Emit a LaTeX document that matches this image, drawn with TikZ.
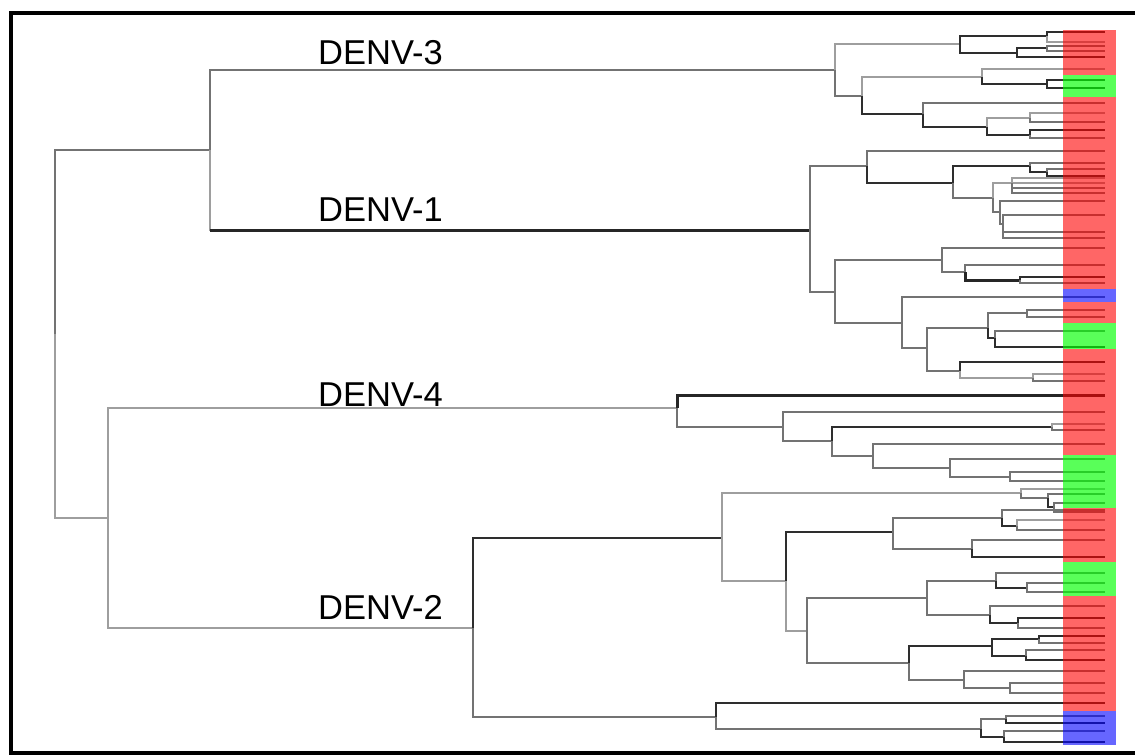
\documentclass[tikz,border=0pt]{standalone}
\usepackage{fontspec}
\setmainfont{Liberation Sans}
\newcommand\nd[4][M]{\coordinate (#2) at (#4); \draw[#1] (#3) |- (#2);}
\newcommand\lf[4][M]{\coordinate (#2) at (1105,#4); \draw[#1] (#3) |- (#2);}
\begin{document}
\begin{tikzpicture}[x=1pt,y=-1pt,
 L/.style={draw=black!38,line width=2pt},
 M/.style={draw=black!55,line width=2pt},
 K/.style={draw=black!82,line width=2.4pt},
 KK/.style={draw=black!85,line width=3pt},
 lab/.style={font=\fontsize{34.5}{40}\selectfont,anchor=base west,inner sep=0pt},
 barr/.style={fill=red,opacity=0.6},
 barg/.style={fill=green,opacity=0.65},
 barb/.style={fill=blue,opacity=0.6}]
\useasboundingbox (0,0) rectangle (1135,755);
\fill[white] (0,0) rectangle (1135,755);
% backbone
\coordinate (R) at (55,334);
\nd[M]{A}{R}{210,150}
\nd[L]{B}{R}{108,518}
\nd[M]{D3}{A}{835,70}
\coordinate (D1) at (810,230);
\draw[L] (A) |- (D1);
\draw[KK] (A |- D1) -- (D1);
\nd[L]{D4}{B}{677,408}
\nd[L]{D2}{B}{473,628}
% DENV-3
\nd[L]{a1}{D3}{960,44}
\nd[K]{a11}{a1}{1047,36}
\lf[K]{a11x}{a11}{32}
\lf[L]{a11y}{a11}{42}
\nd[K]{a12}{a1}{1017,53}
\nd[K]{a121}{a12}{1047,48}
\lf[M]{a121x}{a121}{46}
\lf[M]{a121y}{a121}{51}
\lf[K]{a12y}{a12}{57}
\nd[M]{a2}{D3}{862,96}
\nd[L]{a21}{a2}{982,77}
\lf[L]{a21x}{a21}{69}
\nd[K]{a212}{a21}{1047,84}
\lf[K]{a212x}{a212}{80}
\lf[K]{a212y}{a212}{88}
\nd[K]{a22}{a2}{923,114}
\lf[M]{a22x}{a22}{103}
\nd[K]{a222}{a22}{987,127}
\nd[L]{a2221}{a222}{1030,118}
\lf[L]{a2221x}{a2221}{113}
\lf[M]{a2221y}{a2221}{122}
\nd[K]{a2222}{a222}{1030,135}
\lf[K]{a2222x}{a2222}{130}
\lf[M]{a2222y}{a2222}{138}
% DENV-1
\nd[M]{b1}{D1}{867,166}
\lf[M]{b1x}{b1}{151}
\nd[K]{b12}{b1}{953,183}
\nd[K]{b121}{b12}{1030,166}
\lf[M]{b121x}{b121}{163}
\nd[K]{b1212}{b121}{1047,172}
\lf[M]{b1212x}{b1212}{169}
\lf[K]{b1212y}{b1212}{176}
\nd[M]{b122}{b12}{993,198}
\nd[L]{b1221}{b122}{1012,183}
\lf[L]{b1221a}{b1221}{178}
\lf[L]{b1221b}{b1221}{183}
\lf[M]{b1221c}{b1221}{188}
\lf[M]{b1221d}{b1221}{193}
\nd[M]{b1222}{b122}{1000,212}
\lf[M]{b1222x}{b1222}{201}
\nd[M]{b12222}{b1222}{1003,224}
\lf[M]{b12222x}{b12222}{215}
\lf[M]{b12222y}{b12222}{232}
\lf[M]{b12222z}{b12222}{238}
\nd[M]{b2}{D1}{835,292}
\nd[M]{b21}{b2}{942,260}
\lf[M]{b21x}{b21}{248}
\nd[M]{b212}{b21}{965,272}
\lf[M]{b212x}{b212}{265}
\nd[KK]{b2122}{b212}{1020,280}
\lf[K]{b2122x}{b2122}{277}
\lf[M]{b2122y}{b2122}{283}
\nd[M]{b22}{b2}{902,323}
\lf[M]{b22x}{b22}{297}
\nd[M]{b222}{b22}{927,348}
\nd[M]{b2221}{b222}{988,328}
\nd[M]{b22211}{b2221}{1027,313}
\lf[M]{b22211x}{b22211}{310}
\lf[M]{b22211y}{b22211}{317}
\nd[K]{b22212}{b2221}{995,338}
\lf[M]{b22212x}{b22212}{331}
\lf[K]{b22212y}{b22212}{347}
\nd[M]{b2222}{b222}{960,371}
\lf[K]{b2222x}{b2222}{362}
\nd[L]{b22222}{b2222}{1033,378}
\lf[L]{b22222x}{b22222}{374}
\lf[M]{b22222y}{b22222}{381}
% DENV-4
\lf[KK]{c1}{D4}{395}
\nd[M]{c2}{D4}{783,427}
\lf[M]{c2x}{c2}{412}
\nd[M]{c22}{c2}{832,441}
\nd[K]{c221}{c22}{1052,427}
\lf[L]{c221x}{c221}{424}
\lf[M]{c221y}{c221}{430}
\nd[M]{c222}{c22}{873,456}
\lf[M]{c222x}{c222}{444}
\nd[M]{c2222}{c222}{950,468}
\lf[M]{c2222x}{c2222}{459}
\nd[M]{c22222}{c2222}{1010,477}
\lf[M]{c22222x}{c22222}{472}
\lf[M]{c22222y}{c22222}{481}
% DENV-2
\nd[K]{d1}{D2}{722,538}
\nd[L]{d11}{d1}{1021,493}
\lf[L]{d11x}{d11}{489}
\nd[M]{d112}{d11}{1048,498}
\lf[M]{d112x}{d112}{494}
\nd[K]{d1122}{d112}{1054,507}
\lf[M]{d1122x}{d1122}{503}
\lf[M]{d1122y}{d1122}{512}
\nd[L]{d12}{d1}{786,581}
\nd[K]{d121}{d12}{893,532}
\nd[M]{d1211}{d121}{1002,518}
\lf[M]{d1211x}{d1211}{510}
\nd[K]{d12112}{d1211}{1017,526}
\lf[L]{d12112x}{d12112}{520}
\lf[M]{d12112y}{d12112}{530}
\nd[M]{d1212}{d121}{972,549}
\lf[M]{d1212x}{d1212}{540}
\lf[K]{d1212y}{d1212}{557}
\nd[L]{d122}{d12}{807,631}
\nd[M]{d1221}{d122}{927,598}
\nd[M]{d12211}{d1221}{996,581}
\lf[M]{d12211x}{d12211}{573}
\nd[K]{d122112}{d12211}{1027,588}
\lf[M]{d122112x}{d122112}{583}
\lf[M]{d122112y}{d122112}{592}
\nd[M]{d12212}{d1221}{990,615}
\lf[M]{d12212x}{d12212}{606}
\nd[K]{d122122}{d12212}{1018,623}
\lf[K]{d122122x}{d122122}{618}
\lf[M]{d122122y}{d122122}{628}
\nd[M]{d1222}{d122}{909,663}
\nd[K]{d12221}{d1222}{992,646}
\nd[K]{d122211}{d12221}{1039,639}
\lf[K]{d122211x}{d122211}{636}
\lf[M]{d122211y}{d122211}{643}
\nd[K]{d122212}{d12221}{1026,656}
\lf[M]{d122212x}{d122212}{650}
\lf[K]{d122212y}{d122212}{660}
\nd[M]{d12222}{d1222}{964,680}
\lf[M]{d12222x}{d12222}{671}
\nd[M]{d122222}{d12222}{1010,688}
\lf[M]{d122222x}{d122222}{683}
\lf[M]{d122222y}{d122222}{693}
\nd[M]{d2}{D2}{716,717}
\lf[K]{d2x}{d2}{703}
\nd[M]{d22}{d2}{981,729}
\nd[M]{d221}{d22}{1006,719}
\lf[M]{d221x}{d221}{716}
\lf[K]{d221y}{d221}{723}
\nd[K]{d222}{d22}{1004,737}
\lf[M]{d222x}{d222}{731}
\lf[K]{d222y}{d222}{742}
% colour bar
\path[barr] (1063,30) rectangle (1116,75);
\path[barg] (1063,75) rectangle (1116,97);
\path[barr] (1063,97) rectangle (1116,289);
\path[barb] (1063,289) rectangle (1116,302);
\path[barr] (1063,302) rectangle (1116,323);
\path[barg] (1063,323) rectangle (1116,349);
\path[barr] (1063,349) rectangle (1116,455);
\path[barg] (1063,455) rectangle (1116,508);
\path[barr] (1063,508) rectangle (1116,562);
\path[barg] (1063,562) rectangle (1116,596);
\path[barr] (1063,596) rectangle (1116,711);
\path[barb] (1063,711) rectangle (1116,745);
% labels
\node[lab] (t3) at (318,64) {DENV-3};
\node[lab] (t1) at (318,221) {DENV-1};
\node[lab] (t4) at (318,406) {DENV-4};
\node[lab] (t2) at (318,619) {DENV-2};
% frame
\draw[line width=4.5pt] (1135,13) -- (11,13) -- (11,753) -- (1135,753);
\end{tikzpicture}
\end{document}
